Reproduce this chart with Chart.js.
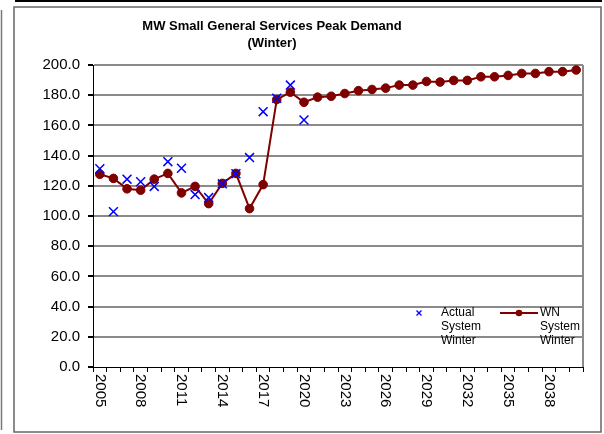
<!DOCTYPE html>
<html><head><meta charset="utf-8">
<script src="https://cdn.jsdelivr.net/npm/chart.js@4"></script>
<style>html,body{margin:0;padding:0;background:#fff}#wrap{width:604px;height:434px;position:relative}</style>
</head><body><div id="wrap"><canvas id="c" width="604" height="434"></canvas></div>
<script>
const years = ['2005','2006','2007','2008','2009','2010','2011','2012','2013','2014','2015','2016','2017','2018','2019','2020','2021','2022','2023','2024','2025','2026','2027','2028','2029','2030','2031','2032','2033','2034','2035','2036','2037','2038','2039','2040'];
const xTickLabels = ['2005','2008','2011','2014','2017','2020','2023','2026','2029','2032','2035','2038'];
const yTickValues = [0,20,40,60,80,100,120,140,160,180,200];
const actualSystemWinter = [131.3,102.9,124.4,122.7,119.6,136.0,131.6,114.2,112.2,121.3,128.0,138.7,169.1,178.0,186.7,163.6];
const wnSystemWinter = [127.6,124.9,118.0,117.1,124.4,128.2,115.3,119.6,108.2,121.6,128.2,104.9,120.8,177.1,182.0,175.3,178.7,179.3,181.1,183.0,183.8,184.7,186.7,186.7,189.1,188.7,189.8,189.8,192.2,192.2,193.1,194.4,194.4,195.6,195.6,196.7];
const titleLines = ['MW Small General Services Peak Demand','(Winter)'];
const legendActual = ['Actual','System','Winter'];
const legendWN = ['WN','System','Winter'];

const FONT = "'Liberation Sans', Arial, sans-serif";
const RED = '#800000', BLUE = '#0000ff', GRID = '#8a8a8a';

const decor = {
  id: 'decor',
  beforeDraw(chart) {
    const ctx = chart.ctx;
    ctx.save();
    ctx.fillStyle = '#fff';
    ctx.fillRect(0, 0, chart.width, chart.height);
    // outer fragments
    ctx.strokeStyle = '#777'; ctx.lineWidth = 1.5;
    ctx.beginPath(); ctx.moveTo(1.5, 10); ctx.lineTo(1.5, 430); ctx.stroke();
    ctx.strokeStyle = '#000'; ctx.lineWidth = 2;
    ctx.beginPath(); ctx.moveTo(15, 1); ctx.lineTo(602, 1); ctx.stroke();
    // inner box
    ctx.strokeStyle = '#666'; ctx.lineWidth = 1.5;
    ctx.strokeRect(14, 7, 587, 425);
    ctx.restore();
  },
  afterDatasetsDraw(chart) {
    const ctx = chart.ctx, a = chart.chartArea;
    ctx.save();
    // right border of plot area
    ctx.strokeStyle = GRID; ctx.lineWidth = 2;
    ctx.beginPath(); ctx.moveTo(a.right, a.top); ctx.lineTo(a.right, a.bottom); ctx.stroke();
    // legend
    ctx.font = '12px ' + FONT; ctx.fillStyle = '#000'; ctx.textBaseline = 'middle'; ctx.textAlign = 'left';
    const ly = a.top + 248, lh = 13.7;
    // actual marker
    const mx = a.left + 326;
    ctx.strokeStyle = BLUE; ctx.lineWidth = 1.3;
    ctx.beginPath(); ctx.moveTo(mx-2.5, ly-2.5); ctx.lineTo(mx+2.5, ly+2.5); ctx.moveTo(mx+2.5, ly-2.5); ctx.lineTo(mx-2.5, ly+2.5); ctx.stroke();
    legendActual.forEach((t, i) => ctx.fillText(t, a.left + 348, ly + i*lh));
    // WN marker
    const wx = a.left + 407;
    ctx.strokeStyle = RED; ctx.lineWidth = 2;
    ctx.beginPath(); ctx.moveTo(wx, ly); ctx.lineTo(wx + 38, ly); ctx.stroke();
    ctx.fillStyle = RED; ctx.beginPath(); ctx.arc(wx + 19, ly, 3.3, 0, Math.PI*2); ctx.fill();
    ctx.fillStyle = '#000';
    legendWN.forEach((t, i) => ctx.fillText(t, wx + 40, ly + i*lh));
    ctx.restore();
  },
  afterDraw(chart) {
    const ctx = chart.ctx, a = chart.chartArea, xs = chart.scales.x;
    ctx.save();
    // rotated x labels (reading top to bottom)
    ctx.font = '15px ' + FONT; ctx.fillStyle = '#000'; ctx.textAlign = 'left'; ctx.textBaseline = 'middle';
    years.forEach((y, i) => {
      if (!xTickLabels.includes(y)) return;
      const x = xs.getPixelForTick(i);
      ctx.save(); ctx.translate(x, a.bottom + 7); ctx.rotate(Math.PI/2); ctx.fillText(y, 0, 0); ctx.restore();
    });
    // title
    ctx.font = 'bold 13px ' + FONT; ctx.textAlign = 'center';
    titleLines.forEach((t, i) => ctx.fillText(t, 272, 26 + i*17));
    ctx.restore();
  }
};

new Chart(document.getElementById('c'), {
  type: 'line',
  data: {
    labels: years,
    datasets: [
      { label: 'Actual System Winter', data: actualSystemWinter, showLine: false,
        pointStyle: 'crossRot', pointRadius: 6.3, pointBorderWidth: 1.5, borderColor: BLUE, backgroundColor: BLUE },
      { label: 'WN System Winter', data: wnSystemWinter, borderColor: RED, backgroundColor: RED, borderWidth: 2,
        pointStyle: 'circle', pointRadius: 4.3, pointBorderWidth: 1, pointBackgroundColor: RED, pointBorderColor: RED, tension: 0 }
    ]
  },
  options: {
    responsive: false, devicePixelRatio: 1, animation: false,
    layout: { padding: { left: 20, top: 65, right: 21, bottom: 20 } },
    plugins: { legend: { display: false }, title: { display: false }, tooltip: { enabled: false } },
    scales: {
      x: {
        offset: true,
        afterFit(s) { s.height = 47; },
        grid: { offset: true, drawOnChartArea: false, drawTicks: true, tickLength: 5, color: '#000', tickColor: '#000', lineWidth: 1 },
        border: { color: '#000', width: 1 },
        ticks: { autoSkip: false, color: 'transparent', maxRotation: 90, minRotation: 90, font: { size: 15, family: FONT },
          callback(v, i) { return xTickLabels.includes(years[i]) ? years[i] : ''; } }
      },
      y: {
        min: 0, max: 200,
        afterFit(s) { s.width = 73; },
        afterBuildTicks(s) { s.ticks = yTickValues.map(v => ({ value: v })); },
        grid: { color: ctx => ctx.tick && ctx.tick.value === 0 ? 'transparent' : GRID, lineWidth: 2, tickColor: '#000', tickLength: 5, drawTicks: true },
        border: { color: '#000', width: 1 },
        ticks: { color: '#000', padding: 8, font: { size: 15, family: FONT }, callback: v => Number(v).toFixed(1) }
      }
    }
  },
  plugins: [decor]
});
</script></body></html>
